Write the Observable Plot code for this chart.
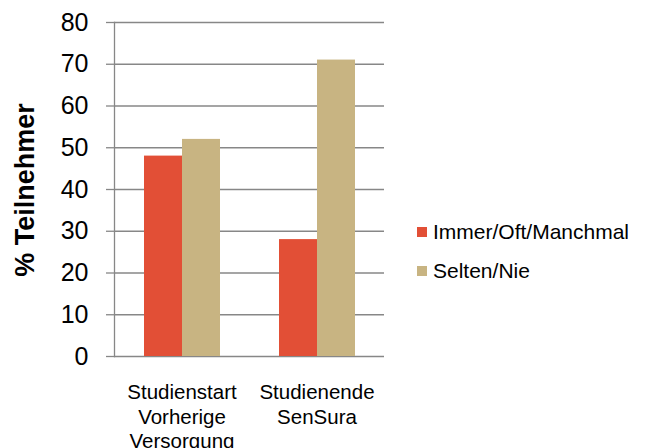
<!DOCTYPE html>
<html>
<head>
<meta charset="utf-8">
<script src="https://cdn.jsdelivr.net/npm/d3@7"></script>
<script src="https://cdn.jsdelivr.net/npm/@observablehq/plot@0.6"></script>
<style>
  html, body { margin: 0; padding: 0; background: #fff; }
  #wrap { position: relative; width: 648px; height: 448px; overflow: hidden; font-family: "Liberation Sans", Arial, sans-serif; }
  #ytitle { position: absolute; left: 25px; top: 190px; transform: translate(-50%, -50%) rotate(-90deg); font-weight: bold; font-size: 27px; white-space: nowrap; color: #000; }
  #legend { position: absolute; left: 417px; top: 219px; font-size: 21px; color: #000; }
  .item { display: flex; align-items: center; height: 26px; margin-bottom: 13px; }
  .sw { width: 10px; height: 10px; margin-right: 6px; }
</style>
</head>
<body>
<div id="wrap"></div>
<script>
const categories = ["Studienstart\nVorherige\nVersorgung", "Studienende\nSenSura"];
const series = ["Immer/Oft/Manchmal", "Selten/Nie"];
const immer = [48, 28];
const selten = [52, 71];
const yTicks = [0, 10, 20, 30, 40, 50, 60, 70, 80];
const colors = ["#E24F36", "#C8B482"];
const yTitle = "% Teilnehmer";

const data = categories.flatMap((c, i) => [
  {cat: c, series: series[0], value: immer[i]},
  {cat: c, series: series[1], value: selten[i]}
]);

const chart = Plot.plot({
  width: 648, height: 448,
  marginLeft: 114, marginRight: 264, marginTop: 22, marginBottom: 92,
  style: {fontFamily: "'Liberation Sans', Arial, sans-serif", background: "white", color: "#000"},
  fx: {domain: categories, padding: 0, label: null, axis: null},
  x: {domain: series, paddingInner: 0, paddingOuter: 0.753, axis: null},
  y: {domain: [0, 80], label: null, axis: null},
  color: {domain: series, range: colors},
  marks: [
    Plot.gridY(yTicks, {stroke: "#878787", strokeOpacity: 1, strokeWidth: 1.3}),
    Plot.barY(data, {fx: "cat", x: "series", y: "value", fill: "series"}),
    Plot.frame({anchor: "left", facetAnchor: "left", stroke: "#878787", strokeWidth: 1.3}),
    Plot.axisY(yTicks, {tickSize: 8, tickPadding: 18, fontSize: 25, stroke: "#878787", strokeWidth: 1.3, label: null}),
    Plot.axisFx({anchor: "bottom", tickSize: 0, tickPadding: 25, fontSize: 20.5, lineHeight: 1.2, label: null})
  ]
});

const wrap = document.getElementById("wrap");
wrap.appendChild(chart);

const t = document.createElement("div");
t.id = "ytitle";
t.textContent = yTitle;
wrap.appendChild(t);

const legend = document.createElement("div");
legend.id = "legend";
series.forEach((s, i) => {
  const item = document.createElement("div");
  item.className = "item";
  const sw = document.createElement("span");
  sw.className = "sw";
  sw.style.background = colors[i];
  const lab = document.createElement("span");
  lab.textContent = s;
  item.appendChild(sw);
  item.appendChild(lab);
  legend.appendChild(item);
});
wrap.appendChild(legend);
</script>
</body>
</html>
